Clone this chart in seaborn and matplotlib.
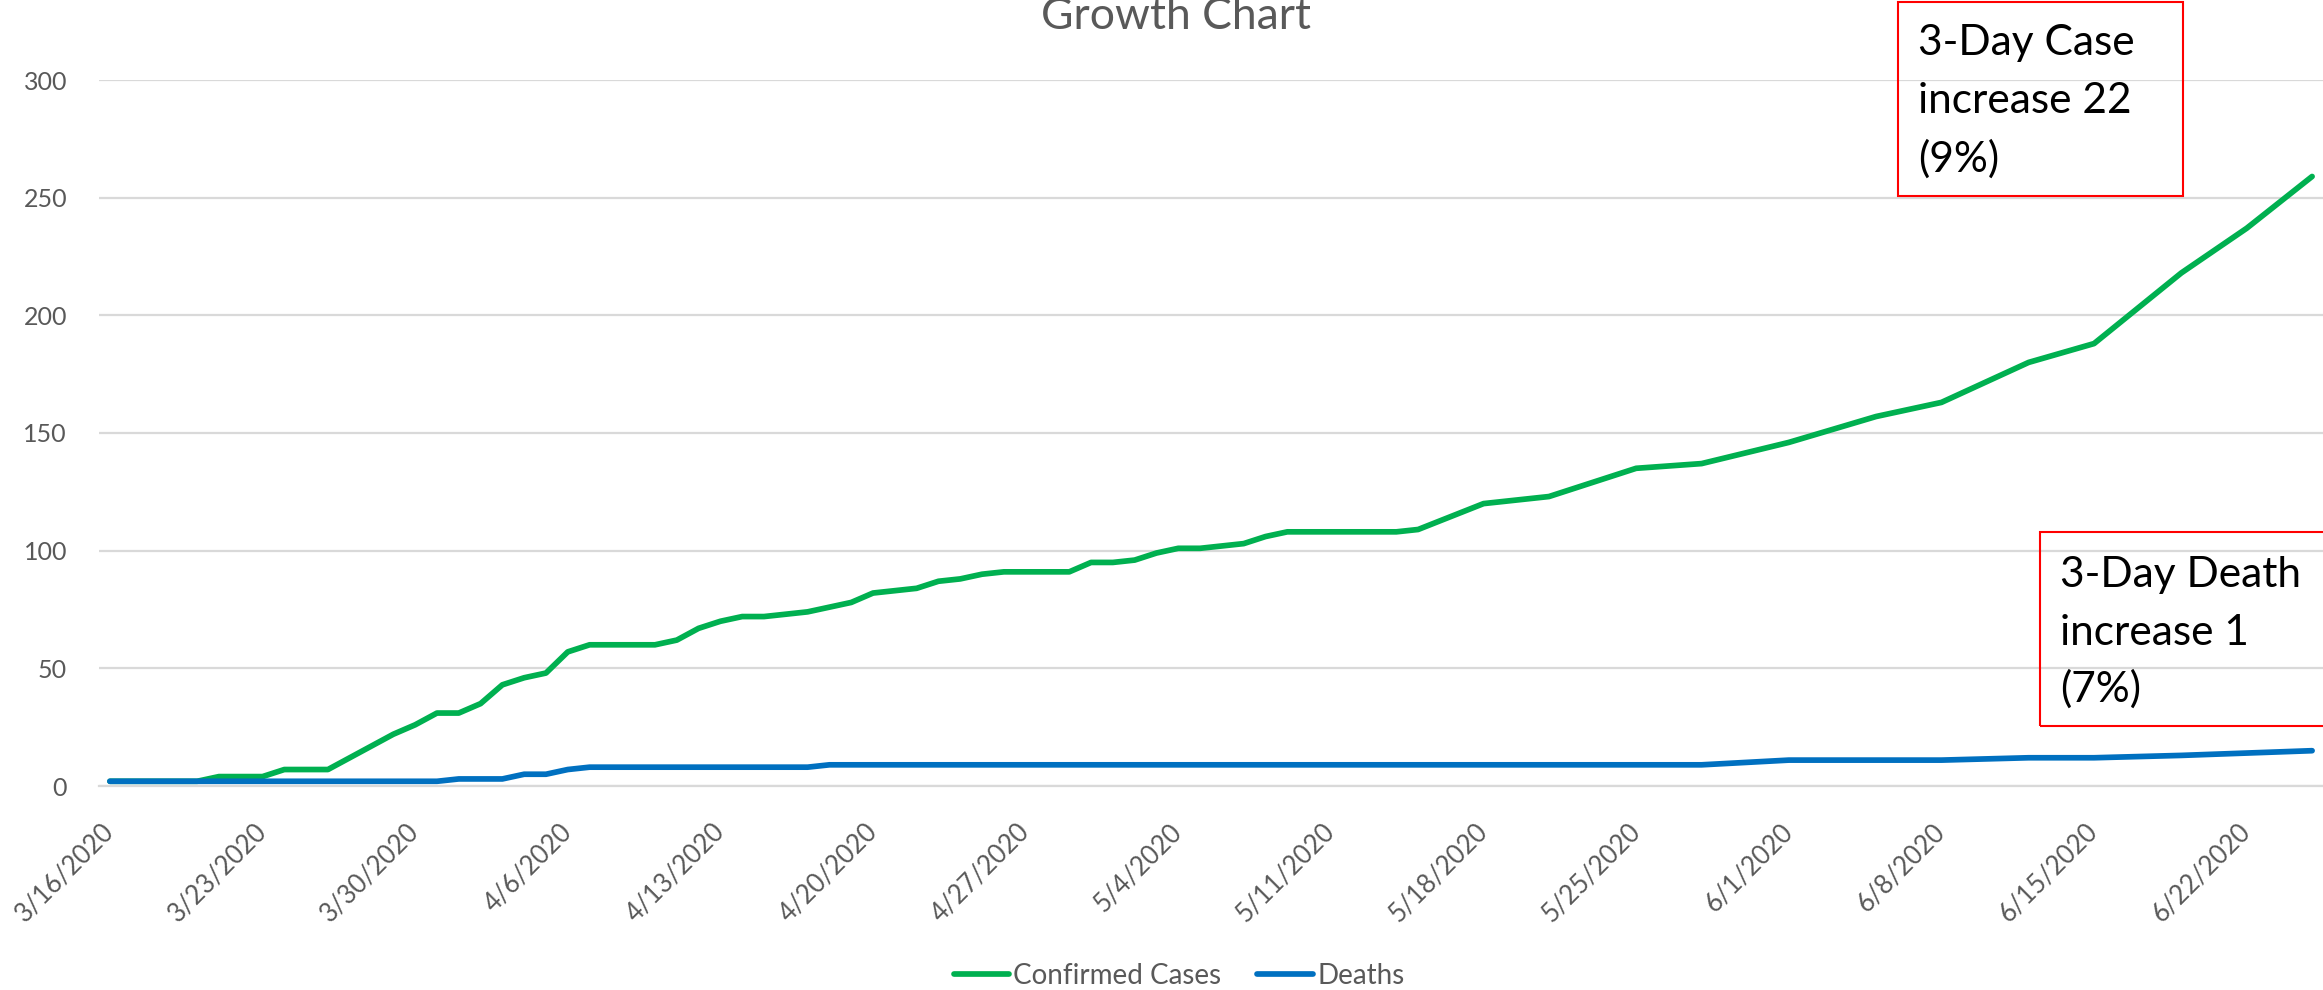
import numpy as np
import pandas as pd
import matplotlib
matplotlib.use("Agg")
import matplotlib.pyplot as plt
from matplotlib.patches import Rectangle
import seaborn as sns

# daily reports 3/16 - 5/15, then twice a week
daily_dates = pd.date_range("2020-03-16", "2020-05-15", freq="D")
later_dates = pd.to_datetime([
    "2020-05-18", "2020-05-21", "2020-05-25", "2020-05-28", "2020-06-01", "2020-06-05",
    "2020-06-08", "2020-06-12", "2020-06-15", "2020-06-19", "2020-06-22", "2020-06-25",
])
dates = daily_dates.append(later_dates)

confirmed = [
    2, 2, 2, 2, 2, 4, 4, 4, 7, 7, 7, 12, 17, 22, 26, 31, 31, 35, 43, 46, 48,
    57, 60, 60, 60, 60, 62, 67, 70, 72, 72, 73, 74, 76, 78, 82, 83, 84, 87, 88,
    90, 91, 91, 91, 91, 95, 95, 96, 99, 101, 101, 102, 103, 106, 108, 108, 108,
    108, 108, 108, 109,
    120, 123, 135, 137, 146, 157, 163, 180, 188, 218, 237, 259,
]
deaths = [
    2, 2, 2, 2, 2, 2, 2, 2, 2, 2, 2, 2, 2, 2, 2, 2, 3, 3, 3, 5, 5,
    7, 8, 8, 8, 8, 8, 8, 8, 8, 8, 8, 8, 9, 9, 9, 9, 9, 9, 9,
    9, 9, 9, 9, 9, 9, 9, 9, 9, 9, 9, 9, 9, 9, 9, 9, 9,
    9, 9, 9, 9,
    9, 9, 9, 9, 11, 11, 11, 12, 12, 13, 14, 15,
]

series_names = ["Confirmed Cases", "Deaths"]
series_colors = {"Confirmed Cases": "#00B050", "Deaths": "#0070C0"}

tick_dates = pd.to_datetime([
    "2020-03-16", "2020-03-23", "2020-03-30", "2020-04-06", "2020-04-13",
    "2020-04-20", "2020-04-27", "2020-05-04", "2020-05-11", "2020-05-18",
    "2020-05-25", "2020-06-01", "2020-06-08", "2020-06-15", "2020-06-22",
])
tick_labels = [
    "3/16/2020", "3/23/2020", "3/30/2020", "4/6/2020", "4/13/2020",
    "4/20/2020", "4/27/2020", "5/4/2020", "5/11/2020", "5/18/2020",
    "5/25/2020", "6/1/2020", "6/8/2020", "6/15/2020", "6/22/2020",
]
y_ticks = [0, 50, 100, 150, 200, 250, 300]

case_note = ["3-Day Case", "increase 22", "(9%)"]
death_note = ["3-Day Death", "increase 1", "(7%)"]

df = pd.concat([
    pd.DataFrame({"date": dates, "value": confirmed, "series": series_names[0]}),
    pd.DataFrame({"date": dates, "value": deaths, "series": series_names[1]}),
])

sns.set_theme(style="white")
plt.rcParams["font.family"] = ["Lato", "DejaVu Sans"]

W, H = 2323, 990
fig = plt.figure(figsize=(W / 100, H / 100), dpi=100)
ax = fig.add_axes([99 / W, 204 / H, (W - 99) / W, 706 / H])

sns.lineplot(data=df, x="date", y="value", hue="series", palette=series_colors,
             hue_order=series_names, linewidth=4.1, ax=ax, legend=False)
for ln in ax.get_lines():
    ln.set_solid_capstyle("round")
    ln.set_solid_joinstyle("round")

half_day = pd.Timedelta(hours=12)
ax.set_xlim(dates[0] - half_day, dates[-1] + half_day)
ax.set_ylim(0, 300)
ax.set_yticks(y_ticks)
ax.set_xticks(tick_dates)
ax.set_xticklabels(tick_labels)
ax.set_xlabel("")
ax.set_ylabel("")

ax.set_axisbelow(True)
ax.yaxis.grid(True, color="#D9D9D9", linewidth=1.6)
ax.xaxis.grid(False)
for side in ["top", "left", "right"]:
    ax.spines[side].set_visible(False)
ax.spines["bottom"].set_color("#D9D9D9")
ax.spines["bottom"].set_linewidth(1.6)

ax.tick_params(axis="y", length=0, pad=23, labelsize=18, labelcolor="#595959")
ax.tick_params(axis="x", length=0, pad=30, labelsize=18.5, labelcolor="#595959")
for lab in ax.get_xticklabels():
    lab.set_rotation(45)
    lab.set_ha("right")
    lab.set_va("center")
    lab.set_rotation_mode("anchor")

# legend along the bottom edge
ax.legend(ax.get_lines(), series_names, loc="center",
          bbox_to_anchor=(1179 / W, 1 - 976 / H), bbox_transform=fig.transFigure,
          ncol=2, frameon=False, fontsize=20, handlelength=2.0,
          handletextpad=0.15, columnspacing=1.3, labelcolor="#595959")

fig.text(1176 / W, 1 - 29 / H, "Growth Chart", ha="center", va="baseline",
         fontsize=32, color="#595959")

# annotation boxes (no fill, red border)
fig.add_artist(Rectangle((1898 / W, 1 - 196 / H), 285 / W, 194 / H,
                         transform=fig.transFigure, fill=False,
                         edgecolor="#FF0000", linewidth=1.5))
for txt, base in zip(case_note, [55, 113, 172]):
    fig.text(1918 / W, 1 - base / H, txt, ha="left", va="baseline",
             fontsize=30.5, color="black")

fig.add_artist(Rectangle((2040 / W, 1 - 726 / H), 290 / W, 194 / H,
                         transform=fig.transFigure, fill=False,
                         edgecolor="#FF0000", linewidth=1.5))
for txt, base in zip(death_note, [587, 645, 702]):
    fig.text(2060 / W, 1 - base / H, txt, ha="left", va="baseline",
             fontsize=30.5, color="black")

fig.savefig("out.png", dpi=100)
